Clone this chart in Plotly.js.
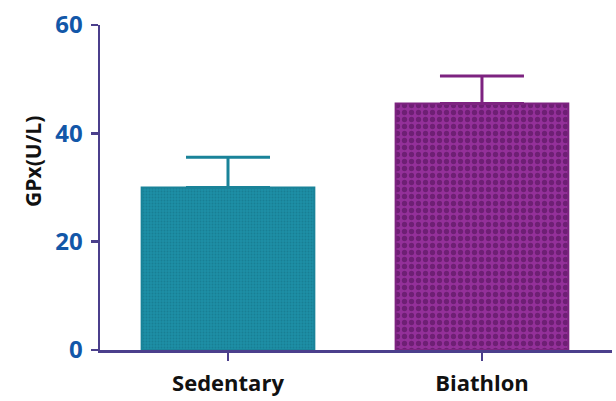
<!DOCTYPE html>
<html>
<head>
<meta charset="utf-8">
<script src="https://cdn.plot.ly/plotly-3.0.1.min.js"></script>
<style>
  html, body { margin: 0; padding: 0; background: #ffffff; }
  #chart { width: 616px; height: 401px; }
</style>
</head>
<body>
<div id="chart"></div>
<script>
// GPx activity by group, mean with upper SD bar
const groups = ["Sedentary", "Biathlon"];
const gpxMean = [30, 45.5];
const gpxSD = [5.6, 5.1];
const yTickValues = [0, 20, 40, 60];
const yTitle = "GPx(U/L)";

const barFill = ["#1d8fa6", "#94309a"];
const barDots = ["#187f94", "#6e1f74"];
const barEdge = ["#1a8399", "#7d2380"];
const axisColor = "#4b3f8c";

const traces = groups.map((g, i) => ({
  type: "bar",
  x: [g],
  y: [gpxMean[i]],
  width: 0.68,
  marker: {
    color: barFill[i],
    line: { color: barEdge[i], width: 2 },
    pattern: {
      shape: ".",
      fgcolor: barDots[i],
      bgcolor: barFill[i],
      size: i === 0 ? 3 : 7,
      solidity: i === 0 ? 0.3 : 0.45
    }
  },
  error_y: {
    type: "data",
    symmetric: false,
    array: [gpxSD[i]],
    arrayminus: [0],
    color: barEdge[i],
    thickness: 3,
    width: 42
  },
  showlegend: false,
  hoverinfo: "skip"
}));

const layout = {
  width: 616,
  height: 401,
  margin: { l: 100, r: 4, t: 25, b: 51 },
  paper_bgcolor: "#ffffff",
  plot_bgcolor: "#ffffff",
  xaxis: {
    type: "category",
    range: [-0.504, 1.512],
    showgrid: false,
    zeroline: false,
    showline: true,
    linecolor: axisColor,
    linewidth: 2.5,
    ticks: "outside",
    ticklen: 8,
    tickwidth: 2.5,
    tickcolor: axisColor,
    tickfont: { family: "Open Sans", size: 22, color: "#111111", weight: "bold" },
    ticklabelstandoff: 4
  },
  yaxis: {
    range: [0, 60],
    tickvals: yTickValues,
    ticktext: yTickValues.map(String),
    showgrid: false,
    zeroline: false,
    showline: true,
    linecolor: axisColor,
    linewidth: 2.5,
    ticks: "outside",
    ticklen: 7,
    tickwidth: 2.5,
    tickcolor: axisColor,
    tickfont: { family: "Open Sans", size: 24, color: "#1257a8", weight: "bold" },
    ticklabelstandoff: 3
  },
  annotations: [{
    text: yTitle,
    xref: "paper",
    yref: "y",
    x: -0.131,
    y: 34.9,
    xanchor: "center",
    yanchor: "middle",
    textangle: -90,
    showarrow: false,
    font: { family: "Open Sans", size: 21, color: "#111111", weight: "bold" }
  }]
};

Plotly.newPlot("chart", traces, layout, { staticPlot: true, displayModeBar: false });
</script>
</body>
</html>
